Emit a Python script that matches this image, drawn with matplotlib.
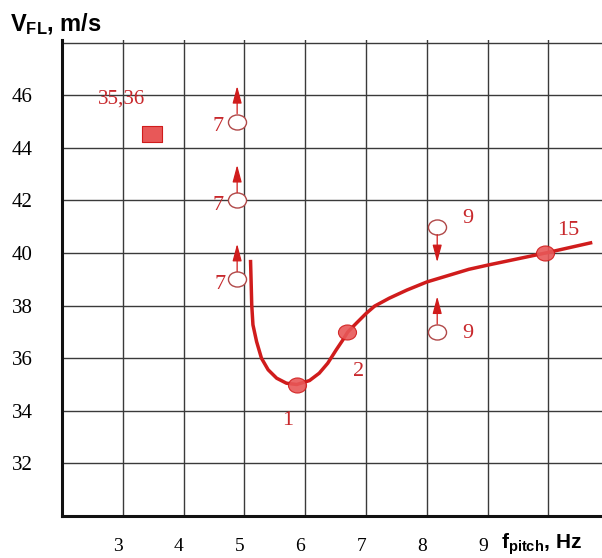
import matplotlib
matplotlib.use('Agg')
import matplotlib.pyplot as plt
from matplotlib.path import Path
from matplotlib.transforms import Affine2D

plt.rcParams['mathtext.fontset'] = 'custom'
plt.rcParams['mathtext.bf'] = 'Liberation Sans:bold'
plt.rcParams['mathtext.rm'] = 'Liberation Sans:bold'
plt.rcParams['mathtext.default'] = 'bf'

RED  = '#d01c1c'
TRED = '#c8282c'
FILL = '#e85858'
GRID = '#3a3a3a'
SERIF = 'Liberation Serif'

# smooth fitted curve
curve_f = [5.10, 5.11, 5.12, 5.14, 5.20, 5.28, 5.39, 5.53, 5.69, 5.86,
           6.07, 6.23, 6.37, 6.51, 6.62, 6.70, 6.84, 7.0, 7.14, 7.38,
           7.67, 8.0, 8.69, 9.0, 9.95, 10.72]
curve_v = [39.74, 38.91, 38.03, 37.27, 36.63, 36.0, 35.56, 35.24, 35.05, 35.0,
           35.15, 35.43, 35.81, 36.32, 36.70, 37.0, 37.33, 37.70, 37.98, 38.28,
           38.59, 38.9, 39.38, 39.54, 40.0, 40.4]

# measured points on the curve
pt_f = [5.86, 6.69, 9.95]
pt_v = [35.0, 37.0, 40.0]
pt_lab = ['1', '2', '15']
pt_lab_f = [5.71, 6.88, 10.32]
pt_lab_v = [33.65, 35.5, 40.85]

# open circles (limits not reached), with arrow directions
oc_f = [4.88, 4.88, 4.88, 8.17, 8.17]
oc_v = [45.0, 42.0, 39.0, 41.0, 37.0]
oc_lab = ['7', '7', '7', '9', '9']
oc_dir = [1, 1, 1, -1, 1]
oc_lab_f = [4.57, 4.57, 4.60, 8.68, 8.68]
oc_lab_v = [44.8, 41.8, 38.8, 41.3, 36.95]

# square point
sq_f = [3.48]
sq_v = [44.52]
sq_lab = '35,36'

xticks = [3, 4, 5, 6, 7, 8, 9, 10]
xlabels = ['3', '4', '5', '6', '7', '8', '9', '']
yticks = [32, 34, 36, 38, 40, 42, 44, 46, 48]
ylabels = ['32', '34', '36', '38', '40', '42', '44', '46', '']

ellipse = Path.unit_circle().transformed(Affine2D().scale(1.2, 1.0))
rect = Path.unit_rectangle().transformed(
    Affine2D().translate(-0.5, -0.5).scale(1.25, 1.0))

fig = plt.figure(figsize=(6.02, 5.58), dpi=100, facecolor='white')
ax = fig.add_axes([62/602, 1 - 516/558, 540/602, 476/558])
ax.set_xlim(2, 10.88)
ax.set_ylim(30, 48.1)

ax.set_xticks(xticks)
ax.set_xticklabels(xlabels, fontfamily=SERIF, fontsize=14)
ax.set_yticks(yticks)
ax.set_yticklabels(ylabels, fontfamily=SERIF, fontsize=15)
ax.tick_params(length=0)
ax.tick_params(axis='x', pad=16)
ax.tick_params(axis='y', pad=21)
for t in ax.get_xticklabels():
    t.set_horizontalalignment('right')
ax.grid(color=GRID, linewidth=1.0, zorder=0)
for s in ['top', 'right']:
    ax.spines[s].set_visible(False)
for s in ['left', 'bottom']:
    ax.spines[s].set_linewidth(2.2)
    ax.spines[s].set_color('#111111')

ax.plot(curve_f, curve_v, color=RED, linewidth=2.5, zorder=3,
        solid_capstyle='butt', solid_joinstyle='round')
ax.plot(pt_f, pt_v, linestyle='none', marker=ellipse, markersize=13,
        markerfacecolor=FILL, markeredgecolor=RED, markeredgewidth=0.8,
        alpha=0.9, zorder=4)
ax.plot(sq_f, sq_v, linestyle='none', marker=rect, markersize=14,
        markerfacecolor=FILL, markeredgecolor=RED, markeredgewidth=0.8, zorder=4)
ax.plot(oc_f, oc_v, linestyle='none', marker=ellipse, markersize=13,
        markerfacecolor='white', markeredgecolor='#b04848', markeredgewidth=1.0,
        zorder=4)

for f, v, d in zip(oc_f, oc_v, oc_dir):
    ax.annotate('', xy=(f, v + d * 1.35), xytext=(f, v + d * 0.3),
                arrowprops=dict(arrowstyle='-|>,head_length=0.75,head_width=0.2',
                                color=RED, lw=0.9, mutation_scale=14,
                                shrinkA=0, shrinkB=0), zorder=4)

for lab, f, v in zip(pt_lab, pt_lab_f, pt_lab_v):
    ax.text(f, v, lab, color=TRED, fontfamily=SERIF, fontsize=16,
            ha='center', va='center', zorder=5)
for lab, f, v in zip(oc_lab, oc_lab_f, oc_lab_v):
    ax.text(f, v, lab, color=TRED, fontfamily=SERIF, fontsize=16,
            ha='center', va='center', zorder=5)
ax.text(2.98, 45.85, sq_lab, color=TRED, fontfamily=SERIF, fontsize=15,
        ha='center', va='center', zorder=5)

fig.text(10/602, 1 - 24/558, r'V$_{FL}$, m/s', fontfamily='Liberation Sans',
         fontweight='bold', fontsize=17, ha='left', va='center')
fig.text(501/602, 1 - 544/558, r'f$_{pitch}$, Hz', fontfamily='Liberation Sans',
         fontweight='bold', fontsize=15, ha='left', va='center')

fig.savefig('out.png', dpi=100, facecolor='white')
